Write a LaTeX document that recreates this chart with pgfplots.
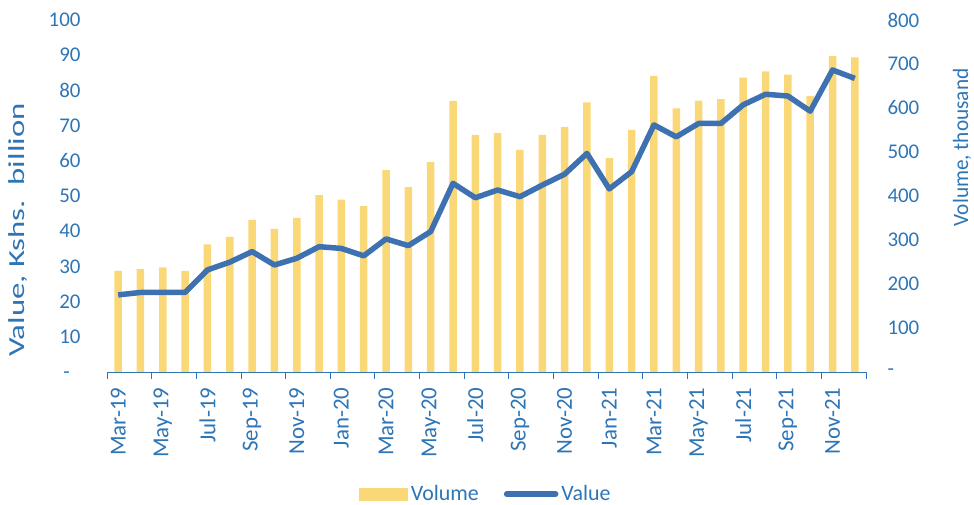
\documentclass[border=0pt]{standalone}
\usepackage{fontspec}
\setmainfont{Carlito}
\usepackage{graphicx}
\usepackage{pgfplots}
\usepackage{pgfplotstable}
\pgfplotsset{compat=1.18}
\definecolor{txt}{RGB}{46,117,182}
\definecolor{linec}{RGB}{62,113,178}
\definecolor{barc}{RGB}{250,216,120}

\pgfplotstableread{
x vol
0 230
1 234
2 238
3 230
4 290
5 307
6 346
7 325
8 350
9 402
10 392
11 377
12 459
13 420
14 477
15 616
16 539
17 543
18 505
19 539
20 557
21 613
22 486
23 550
24 673
25 599
26 617
27 620
28 669
29 683
30 676
31 627
32 718
33 715
}\voltable

\pgfplotstableread{
x val
0 21.9
1 22.6
2 22.6
3 22.6
4 29.0
5 31.2
6 34.2
7 30.4
8 32.3
9 35.6
10 35.1
11 33.0
12 37.8
13 35.9
14 39.9
15 53.6
16 49.5
17 51.7
18 49.8
19 53.1
20 56.2
21 62.1
22 52.0
23 56.9
24 70.2
25 66.8
26 70.6
27 70.6
28 75.9
29 78.9
30 78.4
31 74.1
32 85.8
33 83.4
}\valtable

\begin{document}
\begin{tikzpicture}
\pgfplotsset{
  every axis/.append style={
    scale only axis, width=759bp, height=352bp,
    xmin=-0.5, xmax=33.5,
    font=\fontsize{21}{24}\selectfont,
    every tick label/.append style={text=txt},
  },
}
% bars, right axis
\begin{axis}[
  name=bars,
  axis y line*=right, axis x line=none,
  ymin=0, ymax=800,
  ytick={0,100,...,800},
  yticklabels={-,100,200,300,400,500,600,700,800},
  ytick style={draw=none},
  y axis line style={draw=none},
  yticklabel style={xshift=18bp, anchor=west},
  ylabel={\scalebox{0.97}[1]{Volume, thousand}},
  every axis y label/.style={at={(rel axis cs:1,0.638)}, xshift=96bp, rotate=90, anchor=center,
    text=txt, font=\fontsize{22}{26}\selectfont},
]
\addplot[ybar, bar width=7.5bp, fill=barc, draw=none] table[x=x, y=vol] {\voltable};
\end{axis}
% line, left axis
\begin{axis}[
  axis y line*=left, axis x line*=bottom,
  ymin=0, ymax=100,
  ytick={0,10,...,100},
  yticklabels={-\phantom{0},10,20,30,40,50,60,70,80,90,100},
  ytick style={draw=none},
  y axis line style={draw=none},
  yticklabel style={xshift=-16bp},
  ylabel={\scalebox{1.43}[1]{Value, Kshs.\ \ billion}},
  every axis y label/.style={at={(rel axis cs:0,0.403)}, xshift=-89bp, rotate=90, anchor=center,
    text=txt, font=\fontsize{23}{26}\selectfont},
  x axis line style={draw=txt, line width=0.8pt, -},
  xtick={-0.5,1.5,...,33.5},
  xticklabels={},
  tick align=outside,
  xtick style={draw=txt, line width=0.8pt},
  major tick length=7bp,
  extra x ticks={0,2,...,32},
  extra x tick labels={Mar-19,May-19,Jul-19,Sep-19,Nov-19,Jan-20,Mar-20,May-20,Jul-20,Sep-20,Nov-20,Jan-21,Mar-21,May-21,Jul-21,Sep-21,Nov-21},
  extra x tick style={major tick length=0pt, tick style={draw=none},
    tick label style={yshift=-12bp, rotate=90, anchor=east, font=\fontsize{23}{26}\selectfont}},
  legend style={at={(0.5,-0.347)}, anchor=center, legend columns=2, draw=none, fill=none,
    font=\fontsize{22}{26}\selectfont, text=txt,
    /tikz/every even column/.append style={column sep=22bp},
    nodes={inner sep=3bp}},
]
\addlegendimage{legend image code/.code={\fill[barc] (0bp,-6bp) rectangle (48bp,6bp);}}
\addlegendentry{Volume}
\addplot[linec, line width=5.5bp, line join=round, mark=none,
  legend image code/.code={\draw[linec, line width=5.5bp, line cap=round] (3bp,0bp) -- (52bp,0bp);}]
  table[x=x, y=val] {\valtable};
\addlegendentry{Value}
\end{axis}
\pgfresetboundingbox
\path[use as bounding box] ([xshift=-107bp,yshift=-133bp]bars.south west) rectangle ([xshift=108bp,yshift=20bp]bars.north east);
\end{tikzpicture}
\end{document}
